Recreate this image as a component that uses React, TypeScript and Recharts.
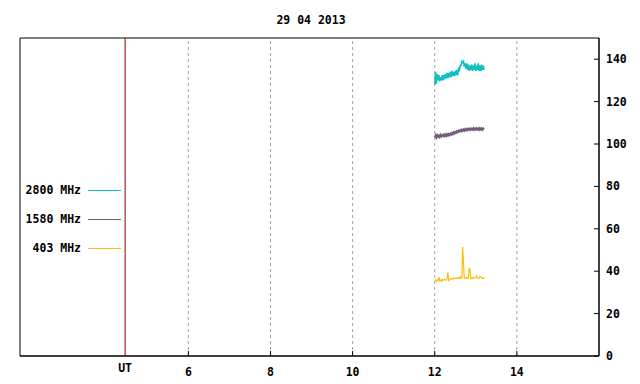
import React from 'react';
import { LineChart, Line, XAxis, YAxis, ReferenceLine, ReferenceArea, Legend } from 'recharts';

const title = '29 04 2013';
const xTicks = [6, 8, 10, 12, 14];
const yTicks = [0, 20, 40, 60, 80, 100, 120, 140];
const utHour = 4.46;
const xDomain: [number, number] = [1.9, 16];
const yDomain: [number, number] = [0, 150];

const times = [
  12.0, 12.02, 12.04, 12.06, 12.08, 12.1, 12.12, 12.14, 12.16, 12.18,
  12.2, 12.22, 12.24, 12.26, 12.28, 12.3, 12.32, 12.34, 12.36, 12.38,
  12.4, 12.42, 12.44, 12.46, 12.48, 12.5, 12.52, 12.54, 12.56, 12.58,
  12.6, 12.62, 12.64, 12.66, 12.68, 12.7, 12.72, 12.74, 12.76, 12.78,
  12.8, 12.82, 12.84, 12.86, 12.88, 12.9, 12.92, 12.94, 12.96, 12.98,
  13.0, 13.02, 13.04, 13.06, 13.08, 13.1, 13.12, 13.14, 13.16, 13.18, 13.2,
];

const mhz2800 = [
  128, 134, 128.5, 133, 130, 132.5, 129.5, 131.5, 130, 132.5,
  130, 132.5, 130.5, 133, 131, 133.5, 131, 133.5, 131.5, 134,
  131.5, 134.5, 132, 134, 132, 134.5, 132.5, 135, 132.5, 135.5,
  135, 137, 137, 139, 138.5, 139, 136.5, 138, 135.5, 138,
  135, 137.5, 134.5, 137, 135, 137.5, 134.5, 137, 135, 138,
  134.5, 137, 135, 138, 134.5, 137, 134.5, 137.5, 135, 137, 135,
];

const mhz1580 = [
  103.2, 104, 103.1, 104.2, 103.5, 104, 103.3, 104.3, 103.6, 104.2,
  103.8, 104.4, 103.7, 104.5, 103.9, 104.6, 104, 104.7, 104.2, 104.9,
  104.5, 105.2, 104.7, 105.5, 105, 105.7, 105.3, 106, 105.6, 106.3,
  105.9, 106.5, 106, 106.7, 106.2, 106.8, 106.3, 107, 106.5, 107.1,
  106.6, 107.2, 106.7, 107.3, 106.7, 107.2, 106.8, 107.4, 106.7, 107.3,
  106.8, 107.4, 106.8, 107.3, 106.7, 107.4, 106.8, 107.3, 106.7, 107.3, 106.8,
];

const mhz403 = [
  35.4, 35.8, 35.2, 36, 35.6, 37.2, 35.5, 35.9, 35.3, 36.1,
  35.7, 35.9, 36.2, 35.8, 36, 36.4, 39.5, 35.6, 35.9, 36.2,
  36.5, 36.3, 36.6, 36.4, 36.7, 36.5, 36.6, 36.8, 36.5, 36.7,
  36.6, 37.3, 36.5, 36.8, 51.5, 44, 36.6, 36.8, 36.5, 37,
  36.7, 36.9, 41.2, 40.8, 36.5, 36.8, 36.6, 37, 36.7, 36.9,
  37.2, 37.8, 36.8, 36.5, 36.7, 37.5, 37.3, 36.9, 36.6, 37, 36.5,
];

const series = [
  { key: 'f2800', name: '2800 MHz', color: '#10c0c0', width: 1.6, values: mhz2800 },
  { key: 'f1580', name: '1580 MHz', color: '#745a7c', width: 2, values: mhz1580 },
  { key: 'f403', name: '403 MHz', color: '#ffbb10', width: 1.2, values: mhz403 },
];

const data = times.map((t, i) => {
  const row: Record<string, number> = { t };
  series.forEach((s) => {
    row[s.key] = s.values[i];
  });
  return row;
});

const FONT = '"DejaVu Sans Mono", monospace';

const XTick = (props: any) => {
  const { x, y, payload } = props;
  return (
    <g>
      <line x1={x} x2={x} y1={y} y2={y - 5} stroke="#000" />
      <text x={x} y={y + 20} textAnchor="middle" fontFamily={FONT} fontWeight="bold" fontSize={11.5} fill="#000">
        {payload.value}
      </text>
    </g>
  );
};

const YTick = (props: any) => {
  const { x, y, payload } = props;
  return (
    <g>
      <line x1={x} x2={x - 5} y1={y} y2={y} stroke="#000" />
      <text x={x + 7} y={y + 4} textAnchor="start" fontFamily={FONT} fontWeight="bold" fontSize={11.5} fill="#000">
        {payload.value}
      </text>
    </g>
  );
};

const Overlay = () => (
  <svg width={640} height={384} style={{ display: 'block', pointerEvents: 'none' }}>
    <text x={311} y={24} textAnchor="middle" fontFamily={FONT} fontWeight="bold" fontSize={11.5} fill="#000">
      {title}
    </text>
    {series.map((s, i) => (
      <g key={s.key}>
        <text x={81} y={194 + i * 29} textAnchor="end" fontFamily={FONT} fontWeight="bold" fontSize={11.5} fill="#000">
          {s.name}
        </text>
        <line x1={88} x2={121} y1={190.5 + i * 29} y2={190.5 + i * 29} stroke={s.color} strokeWidth={1} />
      </g>
    ))}
  </svg>
);

export default function App() {
  return (
    <div style={{ position: 'absolute', left: 0, top: 0, width: 640, height: 384, background: '#fff' }}>
      <LineChart width={640} height={384} data={data} margin={{ top: 38, right: 0, bottom: 0, left: 20 }}>
        <XAxis
          dataKey="t"
          type="number"
          domain={xDomain}
          ticks={xTicks}
          allowDataOverflow
          height={28}
          tickSize={0}
          tickMargin={0}
          tick={<XTick />}
          axisLine={{ stroke: '#000' }}
          interval={0}
        />
        <YAxis
          orientation="right"
          type="number"
          domain={yDomain}
          ticks={yTicks}
          width={41}
          tickSize={0}
          tickMargin={0}
          tick={<YTick />}
          axisLine={{ stroke: '#000' }}
          interval={0}
        />
        {xTicks.map((t) => (
          <ReferenceLine key={'g' + t} x={t} stroke="#a0a0a0" strokeDasharray="3 3" />
        ))}
        <ReferenceArea
          x1={xDomain[0]}
          x2={xDomain[1]}
          y1={yDomain[0]}
          y2={yDomain[1]}
          fill="none"
          fillOpacity={0}
          stroke="#000"
          strokeOpacity={1}
          ifOverflow="extendDomain"
        />
        <ReferenceLine
          x={utHour}
          stroke="#8b0000"
          label={{
            content: (p: any) => (
              <text
                x={p.viewBox.x}
                y={p.viewBox.y + p.viewBox.height + 16}
                textAnchor="middle"
                fontFamily={FONT}
                fontWeight="bold"
                fontSize={11.5}
                fill="#000"
              >
                UT
              </text>
            ),
          }}
        />
        {series.map((s) => (
          <Line
            key={s.key}
            dataKey={s.key}
            name={s.name}
            stroke={s.color}
            strokeWidth={s.width}
            dot={false}
            isAnimationActive={false}
            type="linear"
          />
        ))}
        <Legend
          layout="vertical"
          align="center"
          verticalAlign="middle"
          wrapperStyle={{ left: 0, top: 0, width: 640, height: 384, pointerEvents: 'none' }}
          content={() => <Overlay />}
        />
      </LineChart>
    </div>
  );
}
